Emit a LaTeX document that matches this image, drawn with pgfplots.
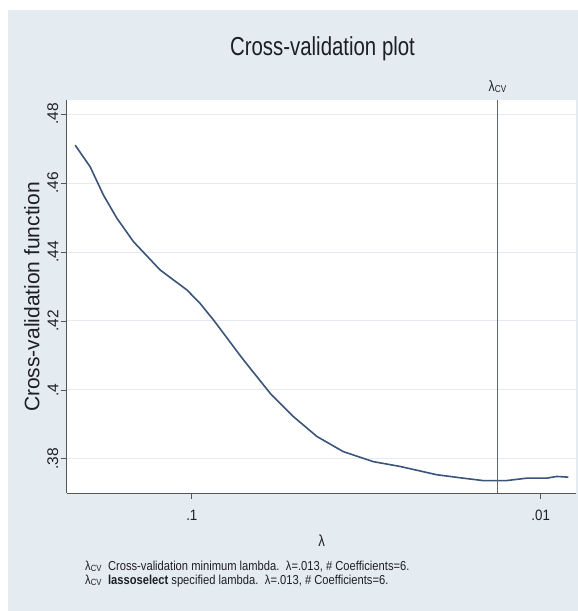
\documentclass[border=0pt]{standalone}
\usepackage{fontspec}
\setmainfont{Liberation Sans}
\newfontfamily\condT[FakeStretch=0.785]{Liberation Sans}
\newfontfamily\condN[FakeStretch=0.86]{Liberation Sans}
\newfontfamily\condX[FakeStretch=0.89]{Liberation Sans}
\newfontfamily\condL[FakeStretch=0.82]{Liberation Sans}
\usepackage{pgfplots}
\pgfplotsset{compat=1.18}
\definecolor{bgblue}{RGB}{229,236,241}
\definecolor{gridc}{RGB}{228,234,239}
\definecolor{cvnavy}{RGB}{58,84,122}
\definecolor{cvred}{RGB}{222,50,50}
\definecolor{axc}{RGB}{85,85,85}
\definecolor{txt}{RGB}{30,30,38}
\newcommand{\fs}[1]{\fontsize{#1}{#1}\selectfont}
\begin{document}
\begin{tikzpicture}
\begin{scope}[x=1pt,y=1pt]
\fill[white] (0,0) rectangle (578,611);
\fill[bgblue] (8,0) rectangle (578,601);
\end{scope}
\begin{axis}[
  at={(66.5pt,118pt)}, anchor=south west, scale only axis,
  width=509.5pt, height=393pt,
  xmode=log, x dir=reverse,
  xmin=0.00792, xmax=0.2287, ymin=0.3701, ymax=0.4841,
  axis line style={draw=none},
  axis background/.style={fill=white},
  tick align=outside, major tick length=6pt,
  tick style={draw=axc, line width=0.8pt},
  xtick={0.1,0.01}, minor xtick={}, xminorticks=false,
  xticklabels={.1,.01},
  xtick pos=bottom, ytick pos=left,
  ytick={0.38,0.40,0.42,0.44,0.46,0.48},
  yticklabels={.38,.4,.42,.44,.46,.48},
  xticklabel style={font=\condX\fs{15}, text=txt, inner sep=0pt, yshift=-11pt},
  yticklabel style={font=\fs{15.5}, text=txt, xshift=-2pt, rotate=90, anchor=south, inner sep=0pt},
  ymajorgrids, grid style={gridc, line width=1pt},
]
\addplot[draw=cvnavy, line width=1.6pt, mark=none] table {
0.2160 0.4710
0.1956 0.4647
0.1792 0.4565
0.1640 0.4498
0.1470 0.4430
0.1233 0.4348
0.1033 0.4290
0.0947 0.4251
0.0867 0.4203
0.0711 0.4087
0.0596 0.3990
0.0512 0.3923
0.0438 0.3865
0.0368 0.3821
0.0302 0.3792
0.0253 0.3778
0.01986 0.3754
0.01667 0.3744
0.01461 0.3737
0.01252 0.3737
0.01097 0.3744
0.00961 0.3744
0.00900 0.3749
0.00833 0.3747
};
\end{axis}
\begin{axis}[
  at={(66.5pt,118pt)}, anchor=south west, scale only axis,
  width=509.5pt, height=393pt,
  xmode=log, x dir=reverse,
  xmin=0.00792, xmax=0.2287, ymin=0.3701, ymax=0.4841,
  hide axis]
\addplot[draw=cvred, line width=1pt, mark=none] table {
0.0133 0.3701
0.0133 0.4841
};
\end{axis}
\begin{scope}[x=1pt,y=1pt]
\draw[axc, line width=0.8pt] (66.5,118) -- (66.5,511);
\draw[axc, line width=0.8pt] (66.5,118) -- (576,118);
\node[anchor=base, text=txt, inner sep=0pt] at (322.5,555.5) {\condT\fs{26}Cross-validation plot};
\node[anchor=base, text=txt, inner sep=0pt] at (497.5,519.3) {\condL\fs{15}λ\raisebox{-1pt}{\fs{10}CV}};
\node[anchor=base, text=txt, inner sep=0pt, rotate=90] at (39.3,314) {\fs{21}Cross-validation function};
\node[anchor=base, text=txt, inner sep=0pt] at (321.7,64.3) {\condL\fs{16}λ};
\node[anchor=base west, text=txt, inner sep=0pt] at (85,40.3) {\condN\fs{13}λ\raisebox{-1pt}{\fs{9}CV}\enspace Cross-validation minimum lambda.\enspace λ=.013, \# Coefficients=6.};
\node[anchor=base west, text=txt, inner sep=0pt] at (85,26) {\condN\fs{13}λ\raisebox{-1pt}{\fs{9}CV}\enspace \textbf{lassoselect} specified lambda.\enspace λ=.013, \# Coefficients=6.};
\end{scope}
\pgfresetboundingbox
\path (0pt,0pt) rectangle (578pt,611pt);
\end{tikzpicture}
\end{document}
